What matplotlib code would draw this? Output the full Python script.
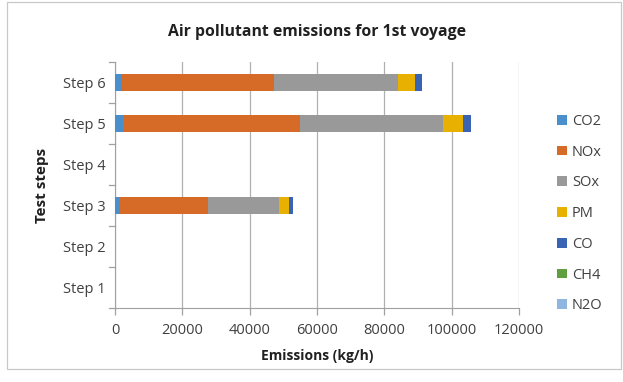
import numpy as np
import matplotlib
matplotlib.use("Agg")
import matplotlib.pyplot as plt
from matplotlib.patches import Rectangle

plt.rcParams['font.family'] = ['Open Sans', 'DejaVu Sans']

steps = ["Step 1", "Step 2", "Step 3", "Step 4", "Step 5", "Step 6"]
pollutants = ["CO2", "NOx", "SOx", "PM", "CO", "CH4", "N2O"]
colors = ["#4a8fcc", "#d66b27", "#999999", "#e8b000", "#3964b4", "#5f9f3f", "#8fb6e0"]

# emissions per step (kg/h), steps 1, 2, 4 are empty
co2 = [0, 0, 1400, 0, 2500, 2000]
nox = [0, 0, 26300, 0, 52500, 45300]
sox = [0, 0, 21100, 0, 42400, 36700]
pm = [0, 0, 2900, 0, 5900, 5100]
co = [0, 0, 1200, 0, 2300, 2100]
ch4 = [0, 0, 20, 0, 40, 35]
n2o = [0, 0, 10, 0, 20, 18]
series = [co2, nox, sox, pm, co, ch4, n2o]

fig = plt.figure(figsize=(6.23, 3.82), dpi=100)
ax = fig.add_axes([115 / 623, 1 - 308 / 382, (519 - 115) / 623, (308 - 62) / 382])

y = np.arange(len(steps))
left = np.zeros(len(steps))
for name, vals, c in zip(pollutants, series, colors):
    ax.barh(y, vals, left=left, height=0.4, color=c, label=name, zorder=3)
    left += np.array(vals)

ax.set_xlim(0, 120000)
ax.set_ylim(-0.5, len(steps) - 0.5)
ax.set_xticks(np.arange(0, 120001, 20000))
ax.set_yticks(y)
ax.set_yticklabels(steps)
ax.tick_params(axis='both', labelsize=10.5, colors='#404040')
ax.tick_params(axis='y', length=0, pad=7)
ax.tick_params(axis='x', length=5, width=0.9, color='#a0a0a0', pad=6)
ax.xaxis.grid(True, color='#b0b0b0', linewidth=0.9, zorder=0)

# category ticks on y axis like Excel
for b in np.arange(-0.5, len(steps), 1.0):
    ax.plot([-1800, 0], [b, b], color='#a0a0a0', lw=0.9, clip_on=False, zorder=4)
for s in ['top', 'right']:
    ax.spines[s].set_visible(False)
ax.spines['left'].set_color('#a0a0a0')
ax.spines['bottom'].set_color('#a0a0a0')

ax.set_title("Air pollutant emissions for 1st voyage", fontsize=11.3, fontweight='bold',
             color='#202020', pad=19)
ax.set_xlabel("Emissions (kg/h)", fontsize=10, fontweight='bold', color='#202020', labelpad=8)
ax.set_ylabel("Test steps", fontsize=11, fontweight='bold', color='#202020', labelpad=10)

ax.legend(loc='center left', bbox_to_anchor=(1.062, 0.384), frameon=False, fontsize=10.5,
          handlelength=0.65, handleheight=0.65, handletextpad=0.35, labelspacing=1.08,
          labelcolor='#404040')

fig.patches.append(Rectangle((0.011, 0.035), 0.985, 0.96, transform=fig.transFigure,
                             fill=False, edgecolor='#c8c8c8', lw=0.9))

fig.savefig("out.png", dpi=100)
